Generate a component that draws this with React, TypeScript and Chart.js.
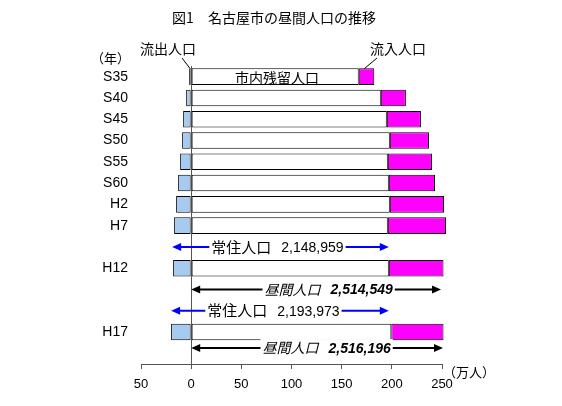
import { useEffect, useRef } from "react"
import { Chart, registerables } from "chart.js"

Chart.register(...registerables)

// 年次（空欄は注記用の行）
const years = ["S35", "S40", "S45", "S50", "S55", "S60", "H2", "H7", "", "H12", "", "", "H17", ""]
// 流出人口（万人、左向きに描くので負の値）
const outflow = [-2, -5, -8, -9, -11, -13, -15, -17, null, -18, null, null, -20, null]
// 市内残留人口（万人）
const remaining = [167, 189, 195, 198, 196, 197, 198, 196, null, 197, null, null, 199.5, null]
// 流入人口（万人）
const inflow = [15.5, 25, 34, 39, 44, 46, 54, 58, null, 54.5, null, null, 52, null]

// 常住人口の矢印（行, 始点, 終点, 文字の中心, 値）
const residentRows = [8, 11]
const residentFrom = [-19, -20]
const residentTo = [197, 197]
const residentLabelAt = [86, 82]
const residentValues = ["2,148,959", "2,193,973"]

// 昼間人口の矢印
const daytimeRows = [10, 12.75]
const daytimeFrom = [0, 0]
const daytimeTo = [249, 251]
const daytimeLabelAt = [137, 135]
const daytimeValues = ["2,514,549", "2,516,196"]

const JP = "'Noto Sans CJK JP', sans-serif"
const NUM = "'Liberation Sans', Arial, sans-serif"

function arrow(ctx: CanvasRenderingContext2D, x1: number, x2: number, yy: number, color: string) {
  const head = 9
  const half = 4
  ctx.save()
  ctx.strokeStyle = color
  ctx.fillStyle = color
  ctx.lineWidth = 2
  ctx.beginPath()
  ctx.moveTo(x1 + head - 1, yy)
  ctx.lineTo(x2 - head + 1, yy)
  ctx.stroke()
  ctx.beginPath()
  ctx.moveTo(x1, yy)
  ctx.lineTo(x1 + head, yy - half)
  ctx.lineTo(x1 + head, yy + half)
  ctx.closePath()
  ctx.fill()
  ctx.beginPath()
  ctx.moveTo(x2, yy)
  ctx.lineTo(x2 - head, yy - half)
  ctx.lineTo(x2 - head, yy + half)
  ctx.closePath()
  ctx.fill()
  ctx.restore()
}

function arrowLabel(
  ctx: CanvasRenderingContext2D,
  cx: number,
  yy: number,
  jp: string,
  num: string,
  jpFont: string,
  numFont: string
) {
  ctx.save()
  ctx.font = jpFont
  const w1 = ctx.measureText(jp).width
  ctx.font = numFont
  const w2 = ctx.measureText(num).width
  const gap = 10
  const total = w1 + gap + w2
  const left = cx - total / 2
  ctx.fillStyle = "#fff"
  ctx.fillRect(left - 2, yy - 9, total + 4, 18)
  ctx.fillStyle = "#000"
  ctx.textBaseline = "middle"
  ctx.textAlign = "left"
  ctx.font = jpFont
  ctx.fillText(jp, left, yy)
  ctx.font = numFont
  ctx.fillText(num, left + w1 + gap, yy + 1)
  ctx.restore()
}

const notes = {
  id: "notes",
  afterDraw(chart: any) {
    const { ctx, scales } = chart
    const x = scales.x
    const y = scales.y
    ctx.save()
    ctx.fillStyle = "#000"
    ctx.textBaseline = "middle"

    // タイトル
    ctx.textAlign = "center"
    ctx.font = "14px " + JP
    ctx.fillText("図1　名古屋市の昼間人口の推移", 274, 18)

    // （年）
    ctx.textAlign = "right"
    ctx.font = "13px " + JP
    ctx.fillText("（年）", 130, 58)

    // （万人）
    ctx.textAlign = "left"
    ctx.fillText("（万人）", 443, 372)

    // 流出人口・流入人口の引き出し線
    const barTop = y.getPixelForValue(0) - 8
    ctx.font = "14px " + JP
    ctx.textAlign = "left"
    ctx.fillText("流出人口", 140, 49)
    ctx.fillText("流入人口", 370, 49)
    ctx.strokeStyle = "#000"
    ctx.lineWidth = 1
    ctx.beginPath()
    ctx.moveTo(182, 58)
    ctx.lineTo(x.getPixelForValue(outflow[0] as number) + 1, barTop)
    ctx.moveTo(377, 58)
    ctx.lineTo(x.getPixelForValue(remaining[0] + inflow[0] * 0.3) + 1, barTop)
    ctx.stroke()

    // 市内残留人口
    ctx.textAlign = "center"
    ctx.fillText("市内残留人口", x.getPixelForValue(remaining[0] / 2 + 2), y.getPixelForValue(0) + 1)
    ctx.restore()

    residentRows.forEach((row, i) => {
      const yy = y.getPixelForValue(row)
      arrow(ctx, x.getPixelForValue(residentFrom[i]), x.getPixelForValue(residentTo[i]), yy, "#0000ff")
      arrowLabel(ctx, x.getPixelForValue(residentLabelAt[i]), yy, "常住人口", residentValues[i], "15px " + JP, "14px " + NUM)
    })
    daytimeRows.forEach((row, i) => {
      const yy = y.getPixelForValue(row)
      arrow(ctx, x.getPixelForValue(daytimeFrom[i]), x.getPixelForValue(daytimeTo[i]), yy, "#000")
      arrowLabel(ctx, x.getPixelForValue(daytimeLabelAt[i]), yy, "昼間人口", daytimeValues[i], "italic 14px " + JP, "italic bold 14px " + NUM)
    })
  },
}

function DaytimePopulationChart() {
  const chartRef = useRef<HTMLCanvasElement>(null)
  const chartInstance = useRef<Chart | null>(null)

  useEffect(() => {
    if (!chartRef.current) return
    if (chartInstance.current) chartInstance.current.destroy()

    const ctx = chartRef.current.getContext("2d")
    if (!ctx) return

    const barStyle = {
      borderColor: "#000",
      borderWidth: 1,
      borderSkipped: false as const,
      barPercentage: 0.78,
      categoryPercentage: 1,
      stack: "pop",
      clip: false as const,
    }

    chartInstance.current = new Chart(ctx, {
      type: "bar",
      data: {
        labels: years,
        datasets: [
          { label: "流出人口", data: outflow, backgroundColor: "#a6caf0", ...barStyle },
          { label: "市内残留人口", data: remaining, backgroundColor: "#ffffff", ...barStyle },
          { label: "流入人口", data: inflow, backgroundColor: "#ff00ff", ...barStyle },
        ],
      },
      options: {
        indexAxis: "y",
        animation: false,
        responsive: true,
        maintainAspectRatio: false,
        layout: { padding: { left: 0, right: 120, top: 66, bottom: 0 } },
        scales: {
          x: {
            stacked: true,
            min: -50,
            max: 250,
            afterFit: (axis: any) => {
              axis.height = 42
            },
            ticks: {
              stepSize: 50,
              padding: 8,
              color: "#000",
              font: { family: NUM, size: 13 },
              callback: (v: any) => String(Math.abs(Number(v))),
            },
            grid: {
              color: (c: any) => (c.tick && c.tick.value === 0 ? "#555" : "rgba(0,0,0,0)"),
              tickColor: "#555",
              tickLength: 5,
            },
            border: { display: true, color: "#555" },
          },
          y: {
            stacked: true,
            afterFit: (axis: any) => {
              axis.width = 141
            },
            ticks: {
              padding: 13,
              color: "#000",
              font: { family: NUM, size: 14 },
            },
            grid: { display: false, drawTicks: false },
            border: { display: false },
          },
        },
        plugins: {
          legend: { display: false },
          tooltip: { enabled: false },
        },
      },
      plugins: [notes],
    })

    return () => {
      if (chartInstance.current) {
        chartInstance.current.destroy()
        chartInstance.current = null
      }
    }
  }, [])

  return (
    <div style={{ position: "fixed", left: 0, top: 0, width: 562, height: 406, background: "#fff" }}>
      <canvas ref={chartRef}></canvas>
    </div>
  )
}

export default function App() {
  return <DaytimePopulationChart />
}
